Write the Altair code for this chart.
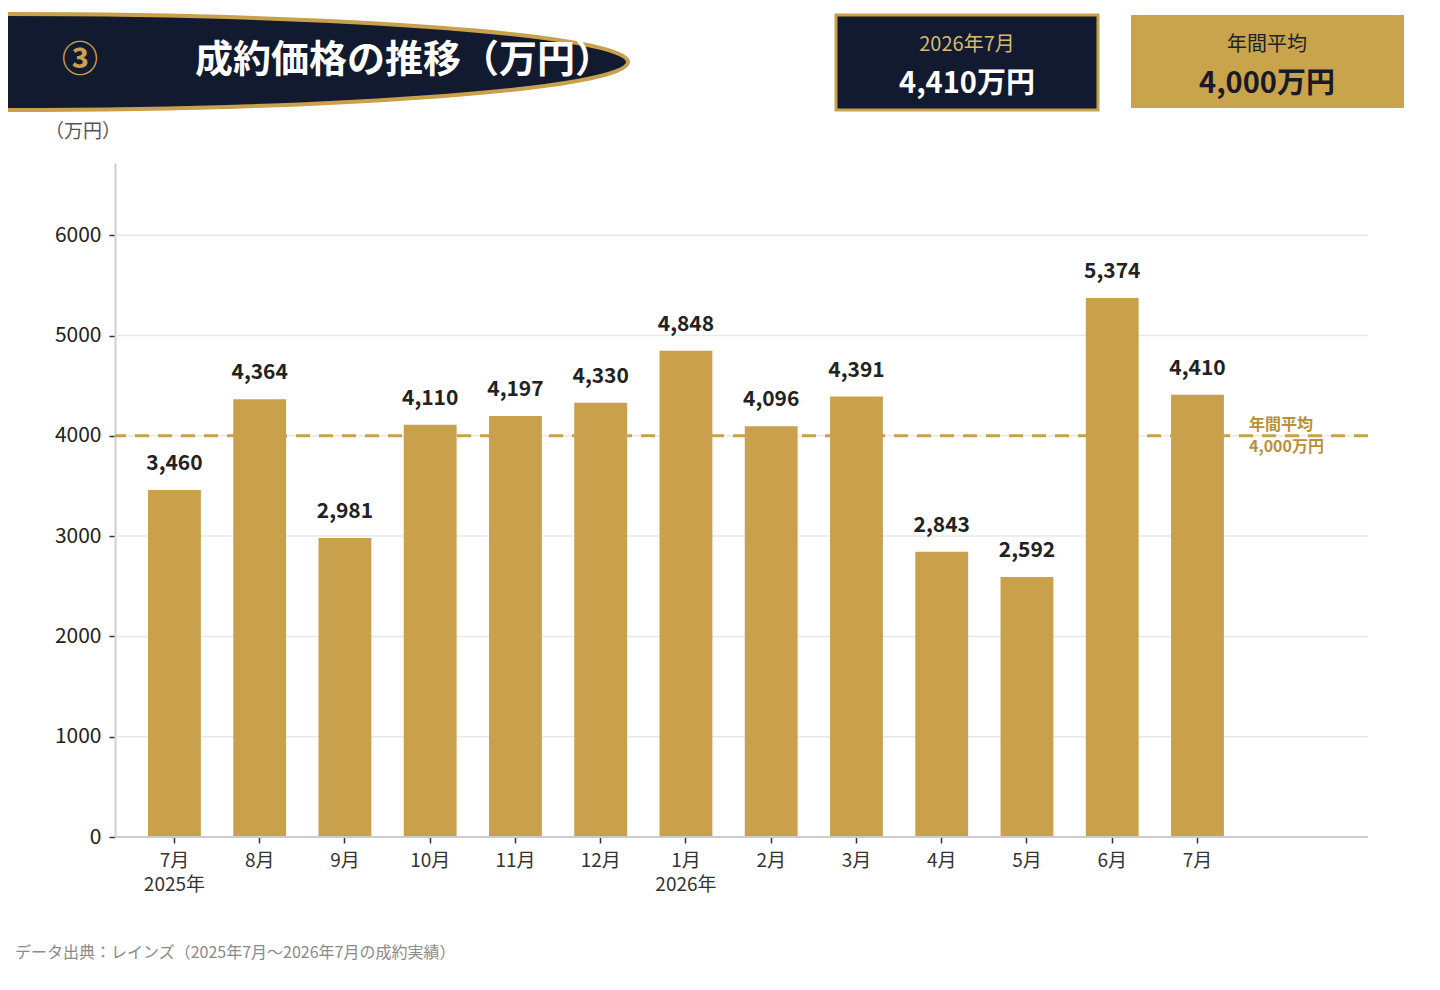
import altair as alt
import pandas as pd

FONT = "Noto Sans CJK JP"
GOLD = "#c9a04c"
NAVY = "#111a2e"

months = ["7月", "8月", "9月", "10月", "11月", "12月", "1月", "2月", "3月", "4月", "5月", "6月", "7月"]
years = ["2025年", "", "", "", "", "", "2026年", "", "", "", "", "", ""]
prices = [3460, 4364, 2981, 4110, 4197, 4330, 4848, 4096, 4391, 2843, 2592, 5374, 4410]
y_ticks = [0, 1000, 2000, 3000, 4000, 5000, 6000]
annual_avg = 4000

title_text = "成約価格の推移（万円）"
badge_text = "③"
unit_text = "（万円）"
source_text = "データ出典：レインズ（2025年7月〜2026年7月の成約実績）"
card1 = ["2026年7月", "4,410万円"]
card2 = ["年間平均", "4,000万円"]
avg_label = "年間平均\n4,000万円"

labels = [m + ("|" + y if y else "") for m, y in zip(months, years)]
df = pd.DataFrame({"label": labels, "price": prices})

base = alt.Chart(df)

x_enc = alt.X(
    "label:N",
    sort=None,
    title=None,
    scale=alt.Scale(paddingInner=0.38, paddingOuter=0.19, range=[16.8, 1125.1]),
    axis=alt.Axis(
        labelExpr="split(datum.value, '|')",
        labelAngle=0,
        labelFontSize=19,
        labelColor="#333333",
        labelLineHeight=24,
        labelPadding=8,
        tickColor="#333333",
        tickSize=6,
        tickWidth=1.5,
        domain=False,
        grid=False,
    ),
)
y_enc = alt.Y(
    "price:Q",
    title=None,
    scale=alt.Scale(domain=[0, 6720], nice=False),
    axis=alt.Axis(
        values=y_ticks,
        format="d",
        labelFontSize=21,
        labelColor="#222222",
        labelPadding=8,
        tickColor="#333333",
        tickSize=6,
        tickWidth=1.5,
        domainColor="#d0d0d0",
        domainWidth=2,
        grid=False,
    ),
)

# horizontal grid drawn as rules so it spans the full plot width
grid = alt.Chart(pd.DataFrame({"tick": y_ticks[1:]})).mark_rule(
    color="#e8e8e8", strokeWidth=1.5
).encode(y="tick:Q")

bars = base.mark_bar(color=GOLD).encode(x=x_enc, y=y_enc)

bar_text = base.mark_text(
    fontSize=21, fontWeight="bold", color="#222222", baseline="alphabetic", dy=-20
).encode(x=alt.X("label:N", sort=None), y="price:Q", text=alt.Text("price:Q", format=","))

baseline = alt.Chart(pd.DataFrame({"zero": [0]})).mark_rule(
    color="#cccccc", strokeWidth=2
).encode(y="zero:Q")

avg_rule = alt.Chart(pd.DataFrame({"avg": [annual_avg]})).mark_rule(
    color=GOLD, strokeWidth=3, strokeDash=[14, 9]
).encode(y="avg:Q")


def one(text):
    return alt.Chart(pd.DataFrame({"t": [text]}))


avg_text = one(avg_label).mark_text(
    align="left", baseline="middle", fontSize=16, fontWeight="bold",
    color="#b8903a", lineBreak="\n", lineHeight=22,
).encode(x=alt.value(1134), y=alt.value(262), text="t:N")

# header ribbon: ellipse clipped by the page edge
ellipse_path = "M -1 0 A 1 0.0764 0 1 0 1 0 A 1 0.0764 0 1 0 -1 0 Z"
ribbon = one("r").mark_point(
    shape=ellipse_path, filled=True, fill=NAVY, stroke=GOLD, strokeWidth=4,
    opacity=1, size=1256 * 1256,
).encode(x=alt.value(-115), y=alt.value(-101))

badge = one(badge_text).mark_text(
    fontSize=36, fontWeight="bold", color=GOLD, align="center", baseline="middle"
).encode(x=alt.value(-35), y=alt.value(-102), text="t:N")

title = one(title_text).mark_text(
    fontSize=38, fontWeight="bold", color="white", align="left", baseline="middle"
).encode(x=alt.value(80), y=alt.value(-102), text="t:N")

unit = one(unit_text).mark_text(
    fontSize=19, color="#555555", align="left", baseline="middle"
).encode(x=alt.value(-70), y=alt.value(-31), text="t:N")

source = one(source_text).mark_text(
    fontSize=16, color="#8a8a8a", align="left", baseline="middle"
).encode(x=alt.value(-100), y=alt.value(790), text="t:N")

box1 = one("b").mark_rect(fill=NAVY, stroke=GOLD, strokeWidth=3).encode(
    x=alt.value(721), x2=alt.value(983), y=alt.value(-148), y2=alt.value(-53)
)
box1_top = one(card1[0]).mark_text(fontSize=20, color="#d9b870", baseline="middle").encode(
    x=alt.value(852), y=alt.value(-118), text="t:N"
)
box1_val = one(card1[1]).mark_text(
    fontSize=29, fontWeight="bold", color="white", baseline="middle"
).encode(x=alt.value(852), y=alt.value(-79), text="t:N")

box2 = one("b").mark_rect(fill="#c9a44c").encode(
    x=alt.value(1016), x2=alt.value(1289), y=alt.value(-148), y2=alt.value(-55)
)
box2_top = one(card2[0]).mark_text(fontSize=20, color="#222222", baseline="middle").encode(
    x=alt.value(1152), y=alt.value(-118), text="t:N"
)
box2_val = one(card2[1]).mark_text(
    fontSize=29, fontWeight="bold", color="#1a1a24", baseline="middle"
).encode(x=alt.value(1152), y=alt.value(-79), text="t:N")

chart = (
    alt.layer(
        grid, bars, bar_text, baseline, avg_rule, avg_text, ribbon, badge, title, unit, source,
        box1, box1_top, box1_val, box2, box2_top, box2_val,
    )
    .properties(
        width=1253,
        height=674,
        autosize=alt.AutoSizeParams(type="none"),
        padding={"left": 107, "top": 155, "right": 64, "bottom": 145},
    )
    .configure_view(stroke=None)
    .configure_text(font=FONT)
    .configure_axis(labelFont=FONT, titleFont=FONT)
)

chart.save("out.html", embed_options={"renderer": "svg", "actions": False})
